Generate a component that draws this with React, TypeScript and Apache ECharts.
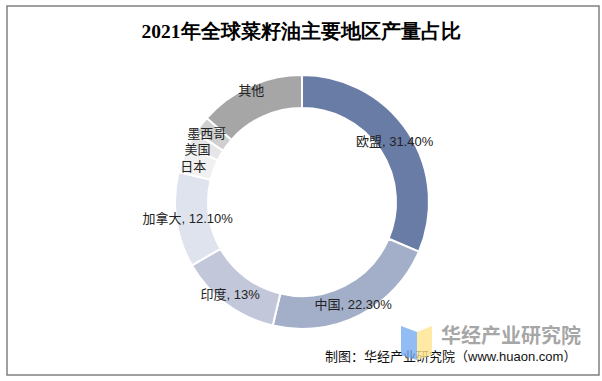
import React, { useEffect, useRef } from "react";
import * as echarts from "echarts";

const titleText = "2021年全球菜籽油主要地区产量占比";
const regions = ["欧盟", "中国", "印度", "加拿大", "日本", "美国", "墨西哥", "其他"];
const shares = [31.4, 22.3, 13, 12.1, 3.5, 1.9, 2.3, 13.5];
const shareLabels = ["31.40%", "22.30%", "13%", "12.10%", "", "", "", ""];
const sliceColors = ["#687ca6", "#a3afc9", "#c2c8da", "#dfe3ee", "#f1f1f1", "#e6e6e6", "#cfcfcf", "#a6a6a6"];
const labelShifts = [[-2, 2], [0, 1], [-4, 2], [-2, 1], [-2, 3], [-6, 4], [-5, 0], [-4, -8]];
const footerText = "制图：华经产业研究院（www.huaon.com）";
const watermarkText = "华经产业研究院";

const FONT = "'Liberation Sans', 'Noto Sans CJK SC', sans-serif";

export default function App() {
  const ref = useRef<HTMLDivElement>(null);
  useEffect(() => {
    document.body.style.margin = "0";
    const chart = echarts.init(ref.current!, undefined, { renderer: "svg" });
    const data = regions.map((name, i) => ({
      name,
      value: shares[i],
      itemStyle: { color: sliceColors[i] },
      label: {
        formatter: shareLabels[i] ? `${name}, ${shareLabels[i]}` : name,
        offset: labelShifts[i],
      },
    }));
    chart.setOption({
      animation: false,
      title: {
        text: titleText,
        left: "center",
        top: 16,
        textStyle: {
          fontFamily: "serif",
          fontWeight: "bold",
          fontSize: 19.5,
          color: "#000",
        },
      },
      series: [
        {
          type: "pie",
          center: [302, 202],
          radius: [94, 127],
          startAngle: 90,
          clockwise: true,
          avoidLabelOverlap: false,
          itemStyle: { borderColor: "#fff", borderWidth: 2 },
          label: {
            show: true,
            position: "inside",
            color: "#222",
            fontSize: 13,
            fontFamily: FONT,
          },
          labelLine: { show: false },
          emphasis: { disabled: true },
          data,
        },
      ],
      graphic: [
        {
          type: "rect",
          shape: { x: 7, y: 6, width: 592, height: 369 },
          style: { fill: "none", stroke: "#808080", lineWidth: 1.5 },
          silent: true,
        },
        {
          type: "text",
          x: 325,
          y: 356,
          style: {
            text: footerText,
            fill: "#111",
            font: "13px " + FONT,
            textVerticalAlign: "middle",
          },
          silent: true,
        },
        {
          type: "polygon",
          shape: { points: [[401, 326], [417, 332], [417, 360], [401, 355]] },
          style: { fill: "rgba(110,165,240,0.75)" },
          silent: true,
        },
        {
          type: "polygon",
          shape: { points: [[417, 332], [432, 326], [432, 355], [417, 360]] },
          style: { fill: "rgba(255,228,140,0.8)" },
          silent: true,
        },
        {
          type: "text",
          x: 441,
          y: 334,
          style: {
            text: watermarkText,
            fill: "rgba(150,150,150,0.85)",
            font: "bold 20px 'Noto Sans CJK SC', sans-serif",
            textVerticalAlign: "middle",
          },
          silent: true,
        },
      ],
    });
    return () => chart.dispose();
  }, []);
  return (
    <div
      ref={ref}
      style={{ position: "absolute", left: 0, top: 0, width: 602, height: 381, background: "#fff" }}
    />
  );
}
